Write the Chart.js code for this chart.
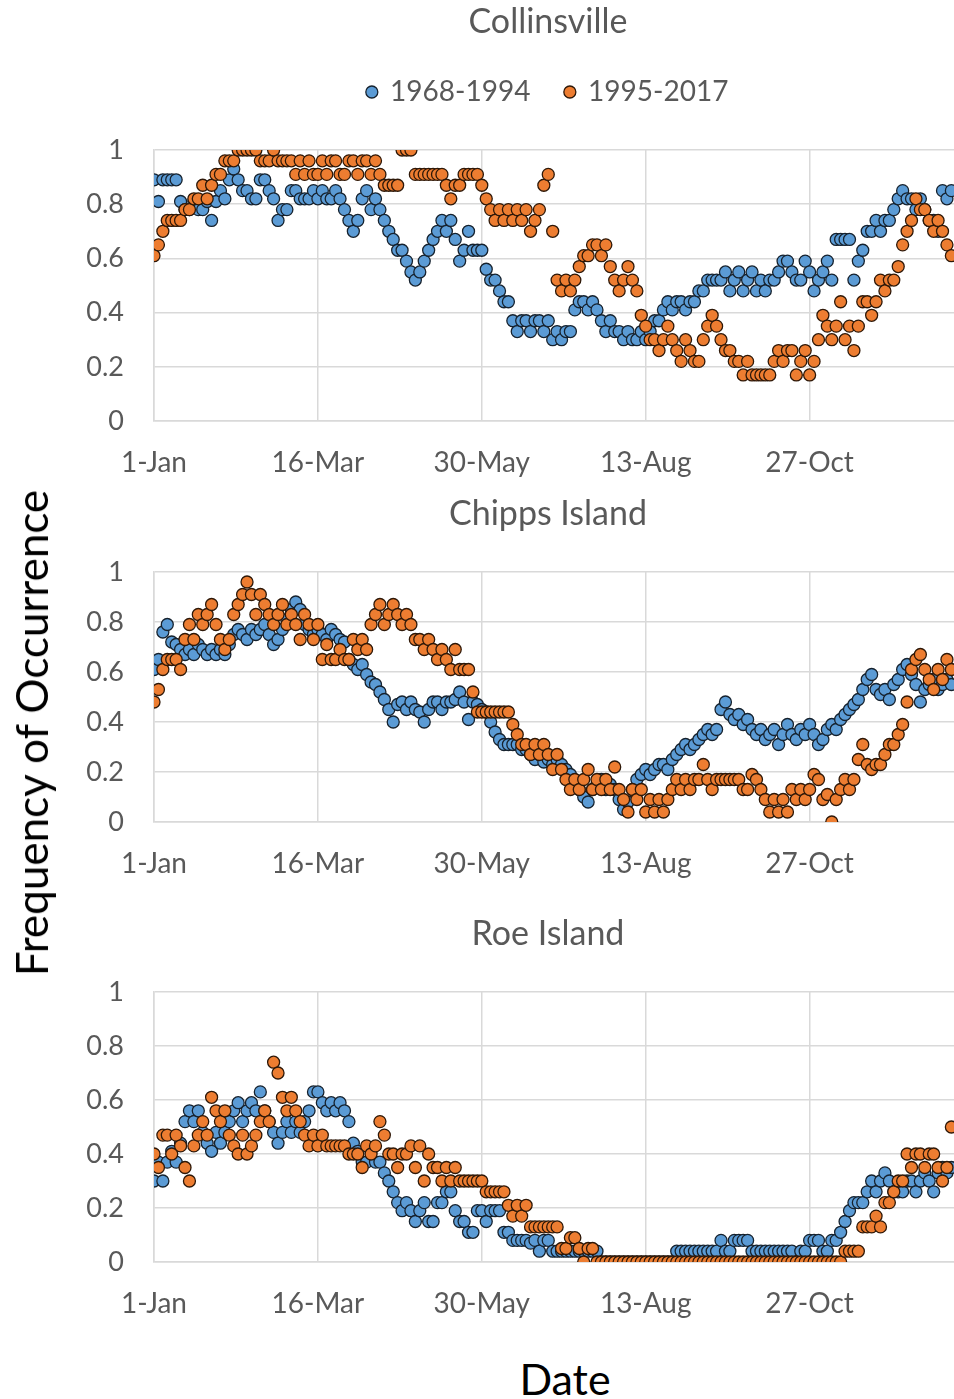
<!DOCTYPE html>
<html>
<head>
<meta charset="utf-8">
<script src="https://cdn.jsdelivr.net/npm/chart.js@4"></script>
<style>
html,body{margin:0;padding:0;background:#fff;}
body{width:954px;height:1399px;overflow:hidden;position:relative;font-family:Lato,"Open Sans",sans-serif;}
.box{position:absolute;left:0;}
#ytitle{position:absolute;left:31px;top:733px;transform:translate(-50%,-50%) rotate(-90deg);font-size:44px;white-space:nowrap;color:#000;line-height:1;}
#xtitle{position:absolute;left:565px;top:1378px;transform:translate(-50%,-50%);font-size:43px;color:#000;line-height:1;white-space:nowrap;}
</style>
</head>
<body>
<canvas id="c1" class="box" width="1096" height="490" style="top:0px"></canvas>
<canvas id="c2" class="box" width="1096" height="410" style="top:490px"></canvas>
<canvas id="c3" class="box" width="1096" height="430" style="top:900px"></canvas>
<div id="ytitle">Frequency of Occurrence</div>
<div id="xtitle">Date</div>
<script>
// ---- data (one value every 2 days, starting 1-Jan) ----
const SERIES_NAMES = ['1968-1994', '1995-2017'];
const STATION_TITLES = ['Collinsville', 'Chipps Island', 'Roe Island'];
const TICK_DAYS = [0, 74, 148, 222, 296];
const TICK_LABELS = ['1-Jan', '16-Mar', '30-May', '13-Aug', '27-Oct'];
const Y_TICK_LABELS = ['0', '0.2', '0.4', '0.6', '0.8', '1'];
const DAY_STEP = 2;

const collinsville_1968_1994 = [
0.89,0.81,0.89,0.89,0.89,0.89,0.81,0.78,0.78,0.81,
0.78,0.78,0.81,0.74,0.81,0.85,0.82,0.89,0.93,0.89,
0.85,0.85,0.82,0.82,0.89,0.89,0.85,0.82,0.74,0.78,
0.78,0.85,0.85,0.82,0.82,0.82,0.85,0.82,0.85,0.82,
0.82,0.85,0.82,0.78,0.74,0.70,0.74,0.82,0.85,0.78,
0.82,0.78,0.74,0.70,0.67,0.63,0.63,0.59,0.55,0.52,
0.55,0.59,0.63,0.67,0.70,0.74,0.70,0.74,0.67,0.59,
0.63,0.70,0.63,0.63,0.63,0.56,0.52,0.52,0.48,0.44,
0.44,0.37,0.33,0.37,0.37,0.33,0.37,0.37,0.33,0.37,
0.30,0.33,0.30,0.33,0.33,0.41,0.44,0.44,0.41,0.44,
0.41,0.37,0.33,0.37,0.33,0.33,0.30,0.33,0.30,0.30,
0.33,0.30,0.33,0.37,0.37,0.41,0.44,0.41,0.44,0.44,
0.41,0.44,0.44,0.48,0.48,0.52,0.52,0.52,0.52,0.55,
0.48,0.52,0.55,0.48,0.52,0.55,0.48,0.52,0.48,0.52,
0.52,0.55,0.59,0.59,0.55,0.52,0.52,0.59,0.55,0.48,
0.52,0.55,0.59,0.52,0.67,0.67,0.67,0.67,0.52,0.59,
0.63,0.70,0.70,0.74,0.70,0.74,0.74,0.78,0.82,0.85,
0.82,0.82,0.78,0.82,0.78,0.74,0.74,0.70,0.85,0.82,
0.85];
const collinsville_1995_2017 = [
0.61,0.65,0.70,0.74,0.74,0.74,0.74,0.78,0.78,0.82,
0.82,0.87,0.82,0.87,0.91,0.91,0.96,0.96,0.96,1.00,
1.00,1.00,1.00,1.00,0.96,0.96,0.96,1.00,0.96,0.96,
0.96,0.96,0.91,0.96,0.91,0.96,0.91,0.91,0.96,0.91,
0.96,0.96,0.91,0.91,0.96,0.96,0.91,0.96,0.96,0.91,
0.96,0.91,0.87,0.87,0.87,0.87,1.00,1.00,1.00,0.91,
0.91,0.91,0.91,0.91,0.91,0.91,0.87,0.82,0.87,0.87,
0.91,0.91,0.91,0.91,0.87,0.82,0.78,0.74,0.78,0.74,
0.78,0.74,0.78,0.74,0.78,0.70,0.74,0.78,0.87,0.91,
0.70,0.52,0.48,0.52,0.48,0.52,0.57,0.61,0.61,0.65,
0.65,0.61,0.65,0.57,0.52,0.48,0.52,0.57,0.52,0.48,
0.39,0.35,0.30,0.30,0.26,0.30,0.35,0.30,0.26,0.22,
0.30,0.26,0.22,0.22,0.30,0.35,0.39,0.35,0.30,0.26,
0.26,0.22,0.22,0.17,0.22,0.17,0.17,0.17,0.17,0.17,
0.22,0.26,0.22,0.26,0.26,0.17,0.22,0.26,0.17,0.22,
0.30,0.39,0.35,0.30,0.35,0.44,0.30,0.35,0.26,0.35,
0.44,0.44,0.39,0.44,0.52,0.48,0.52,0.52,0.57,0.65,
0.70,0.74,0.82,0.78,0.78,0.74,0.70,0.74,0.70,0.65,
0.61];
const chipps_1968_1994 = [
0.61,0.65,0.76,0.79,0.72,0.71,0.69,0.67,0.69,0.67,
0.71,0.69,0.67,0.69,0.67,0.69,0.67,0.71,0.75,0.77,
0.75,0.73,0.77,0.75,0.77,0.79,0.75,0.71,0.73,0.77,
0.81,0.85,0.88,0.85,0.79,0.77,0.75,0.77,0.75,0.73,
0.77,0.75,0.73,0.72,0.65,0.63,0.61,0.63,0.59,0.56,
0.55,0.52,0.49,0.45,0.40,0.47,0.48,0.45,0.48,0.45,
0.44,0.40,0.45,0.48,0.48,0.45,0.48,0.48,0.49,0.52,
0.48,0.41,0.48,0.47,0.45,0.44,0.40,0.36,0.33,0.31,
0.31,0.31,0.31,0.29,0.29,0.27,0.25,0.27,0.24,0.25,
0.23,0.25,0.23,0.21,0.19,0.15,0.13,0.10,0.08,0.13,
0.15,0.17,0.13,0.15,0.13,0.09,0.05,0.08,0.13,0.17,
0.19,0.21,0.19,0.21,0.23,0.23,0.21,0.25,0.27,0.29,
0.31,0.29,0.31,0.33,0.35,0.37,0.35,0.37,0.45,0.48,
0.43,0.41,0.43,0.39,0.41,0.37,0.35,0.37,0.33,0.35,
0.37,0.31,0.35,0.39,0.35,0.33,0.37,0.35,0.39,0.35,
0.31,0.33,0.37,0.39,0.37,0.41,0.43,0.45,0.47,0.49,
0.53,0.57,0.59,0.53,0.51,0.53,0.49,0.55,0.57,0.61,
0.63,0.59,0.55,0.48,0.53,0.55,0.57,0.53,0.55,0.57,
0.55];
const chipps_1995_2017 = [
0.48,0.53,0.61,0.65,0.65,0.65,0.61,0.73,0.79,0.73,
0.83,0.79,0.83,0.87,0.79,0.73,0.69,0.73,0.83,0.87,
0.91,0.96,0.91,0.83,0.91,0.87,0.83,0.79,0.83,0.87,
0.79,0.83,0.79,0.73,0.83,0.79,0.73,0.79,0.65,0.71,
0.65,0.65,0.69,0.65,0.65,0.73,0.69,0.73,0.69,0.79,
0.83,0.87,0.79,0.83,0.87,0.83,0.79,0.83,0.79,0.73,
0.73,0.69,0.73,0.69,0.65,0.69,0.65,0.61,0.69,0.61,
0.61,0.61,0.52,0.44,0.44,0.44,0.44,0.44,0.44,0.44,
0.44,0.39,0.35,0.31,0.31,0.27,0.31,0.27,0.31,0.27,
0.21,0.27,0.21,0.17,0.13,0.17,0.13,0.17,0.21,0.13,
0.17,0.13,0.17,0.13,0.22,0.13,0.09,0.04,0.13,0.09,
0.13,0.04,0.09,0.04,0.09,0.04,0.09,0.13,0.17,0.13,
0.17,0.13,0.17,0.17,0.23,0.17,0.13,0.17,0.17,0.17,
0.17,0.17,0.17,0.13,0.13,0.19,0.17,0.13,0.09,0.04,
0.09,0.04,0.09,0.04,0.13,0.09,0.13,0.09,0.13,0.19,
0.17,0.09,0.11,0.00,0.09,0.13,0.17,0.13,0.17,0.25,
0.31,0.23,0.21,0.23,0.23,0.27,0.31,0.31,0.35,0.39,
0.48,0.61,0.65,0.67,0.61,0.57,0.53,0.61,0.57,0.65,
0.61];
const roe_1968_1994 = [
0.30,0.37,0.30,0.37,0.41,0.37,0.44,0.52,0.56,0.52,
0.56,0.48,0.44,0.41,0.48,0.44,0.48,0.52,0.56,0.59,
0.52,0.56,0.59,0.56,0.63,0.56,0.52,0.48,0.44,0.48,
0.52,0.48,0.52,0.48,0.52,0.56,0.63,0.63,0.59,0.56,
0.59,0.56,0.59,0.56,0.52,0.44,0.41,0.37,0.37,0.41,
0.37,0.37,0.33,0.30,0.26,0.22,0.19,0.22,0.19,0.15,
0.19,0.22,0.15,0.15,0.22,0.22,0.26,0.26,0.19,0.15,
0.15,0.11,0.11,0.19,0.19,0.15,0.19,0.19,0.19,0.11,
0.11,0.08,0.08,0.08,0.08,0.07,0.08,0.04,0.08,0.08,
0.04,0.04,0.04,0.04,0.04,0.04,0.04,0.04,0.04,0.04,
0.04,0.00,0.00,0.00,0.00,0.00,0.00,0.00,0.00,0.00,
0.00,0.00,0.00,0.00,0.00,0.00,0.00,0.00,0.04,0.04,
0.04,0.04,0.04,0.04,0.04,0.04,0.04,0.04,0.08,0.04,
0.04,0.08,0.08,0.08,0.08,0.04,0.04,0.04,0.04,0.04,
0.04,0.04,0.04,0.04,0.04,0.00,0.04,0.04,0.08,0.08,
0.08,0.04,0.04,0.08,0.08,0.11,0.15,0.19,0.22,0.22,
0.22,0.26,0.30,0.26,0.30,0.33,0.30,0.26,0.26,0.26,
0.30,0.30,0.26,0.30,0.33,0.30,0.26,0.33,0.35,0.33,
0.35];
const roe_1995_2017 = [
0.40,0.35,0.47,0.47,0.40,0.47,0.43,0.35,0.30,0.43,
0.47,0.52,0.47,0.61,0.56,0.52,0.56,0.47,0.43,0.40,
0.47,0.40,0.43,0.47,0.52,0.56,0.52,0.74,0.70,0.61,
0.56,0.61,0.56,0.52,0.47,0.43,0.47,0.43,0.47,0.43,
0.43,0.43,0.43,0.43,0.40,0.40,0.40,0.35,0.43,0.40,
0.43,0.52,0.47,0.40,0.40,0.35,0.40,0.40,0.43,0.35,
0.43,0.30,0.40,0.35,0.35,0.30,0.35,0.30,0.35,0.30,
0.30,0.30,0.30,0.30,0.30,0.26,0.26,0.26,0.26,0.26,
0.21,0.17,0.21,0.17,0.21,0.13,0.13,0.13,0.13,0.13,
0.13,0.13,0.05,0.05,0.09,0.09,0.05,0.00,0.05,0.05,
0.00,0.00,0.00,0.00,0.00,0.00,0.00,0.00,0.00,0.00,
0.00,0.00,0.00,0.00,0.00,0.00,0.00,0.00,0.00,0.00,
0.00,0.00,0.00,0.00,0.00,0.00,0.00,0.00,0.00,0.00,
0.00,0.00,0.00,0.00,0.00,0.00,0.00,0.00,0.00,0.00,
0.00,0.00,0.00,0.00,0.00,0.00,0.00,0.00,0.00,0.00,
0.00,0.00,0.00,0.00,0.00,0.00,0.04,0.04,0.04,0.04,
0.13,0.13,0.13,0.17,0.13,0.22,0.22,0.26,0.30,0.30,
0.40,0.35,0.40,0.40,0.35,0.40,0.40,0.35,0.30,0.35,
0.50];

// ---- styling ----
const FONT = 'Lato, "Open Sans", sans-serif';
const GREY_TEXT = '#595959';
const GRID = '#d9d9d9';
const X_MAX_DAY = 422;   // axis continues past the right edge of the (cropped) picture

function toXY(vals) {
  return vals.map((v, i) => ({ x: i * DAY_STEP, y: v }));
}

function makeChart(id, title, blue, orange, o) {
  const plugins = {
    title: {
      display: true, text: title, color: GREY_TEXT,
      font: { family: FONT, size: 34, weight: 'normal', lineHeight: 1.2 },
      padding: { top: o.tpt, bottom: o.tpb }
    },
    tooltip: { enabled: false },
    legend: { display: false },
    subtitle: { display: false }
  };
  if (o.legend) {
    plugins.legend = {
      display: true, position: 'top', align: 'center',
      labels: {
        usePointStyle: true, pointStyle: 'circle', boxWidth: 8.5, boxHeight: 8.5,
        padding: o.lpad, color: GREY_TEXT,
        font: { family: FONT, size: 28 },
        sort: (a, b) => a.datasetIndex - b.datasetIndex
      }
    };
    plugins.subtitle = {
      display: true, text: '', weight: 500,
      font: { size: 10, lineHeight: 1.2 },
      padding: { top: o.spTop, bottom: o.spBottom }
    };
  }
  return new Chart(document.getElementById(id), {
    type: 'scatter',
    data: {
      datasets: [
        { label: SERIES_NAMES[0], data: toXY(blue), backgroundColor: '#5B9BD5', borderColor: '#16222e',
          borderWidth: 1.3, pointRadius: 6, pointHoverRadius: 6, order: 1 },
        { label: SERIES_NAMES[1], data: toXY(orange), backgroundColor: '#ED7D31', borderColor: '#2e1808',
          borderWidth: 1.3, pointRadius: 6, pointHoverRadius: 6, order: 0 }
      ]
    },
    options: {
      responsive: false, animation: false, events: [],
      layout: { padding: { left: 0, right: 0, top: 0, bottom: 0 } },
      plugins: plugins,
      scales: {
        x: {
          type: 'linear', min: 0, max: X_MAX_DAY,
          afterBuildTicks: (s) => { s.ticks = TICK_DAYS.map(v => ({ value: v })); },
          afterFit: (s) => { s.height = o.xh; },
          ticks: {
            autoSkip: false, maxRotation: 0, minRotation: 0, padding: 25,
            color: GREY_TEXT, font: { family: FONT, size: 28 },
            callback: (v) => TICK_LABELS[TICK_DAYS.indexOf(v)]
          },
          grid: { color: GRID, lineWidth: 1.5, drawTicks: false },
          border: { color: GRID, width: 1.5 }
        },
        y: {
          min: 0, max: 1,
          afterFit: (s) => { s.width = 154; },
          ticks: {
            stepSize: 0.2, padding: 30, color: GREY_TEXT, font: { family: FONT, size: 27 },
            callback: (v) => Y_TICK_LABELS[Math.round(v / 0.2)]
          },
          grid: { color: GRID, lineWidth: 1.5, drawTicks: false },
          border: { color: GRID, width: 1.5 }
        }
      }
    }
  });
}

makeChart('c1', STATION_TITLES[0], collinsville_1968_1994, collinsville_1995_2017,
  { tpt: 2, tpb: 0, legend: true, lpad: 35.2, spTop: 12, spBottom: 10, xh: 69 });
makeChart('c2', STATION_TITLES[1], chipps_1968_1994, chipps_1995_2017,
  { tpt: 3.6, tpb: 37.6, legend: false, xh: 78 });
makeChart('c3', STATION_TITLES[2], roe_1968_1994, roe_1995_2017,
  { tpt: 13.6, tpb: 37.6, legend: false, xh: 68 });
</script>
</body>
</html>
